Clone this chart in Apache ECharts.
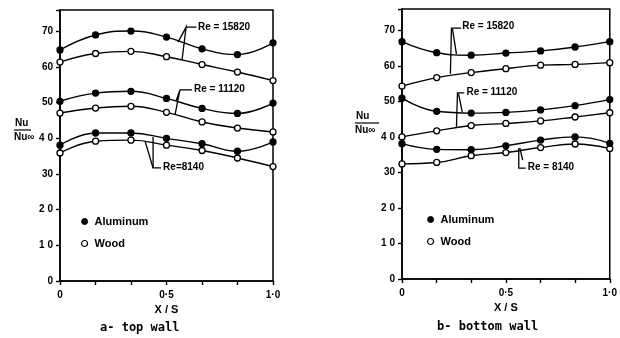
<!DOCTYPE html>
<html><head><meta charset="utf-8">
<script src="https://cdn.jsdelivr.net/npm/echarts@6/dist/echarts.min.js"></script>
<style>html,body{margin:0;padding:0;background:#fff}#c{width:620px;height:338px}</style>
</head><body><div id="c"></div>
<script>
// X/S positions
var xPos = [0, 0.167, 0.333, 0.5, 0.667, 0.833, 1.0];
// (a) top wall
var topAl15820   = [64.8, 69.0, 70.1, 68.4, 65.1, 63.5, 66.8];
var topWood15820 = [61.4, 63.8, 64.4, 62.9, 60.7, 58.6, 56.2];
var topAl11120   = [50.4, 52.7, 53.2, 51.2, 48.4, 47.0, 49.9];
var topWood11120 = [47.1, 48.5, 49.0, 47.3, 44.6, 42.9, 41.8];
var topAl8140    = [38.1, 41.5, 41.5, 40.0, 38.5, 36.4, 39.0];
var topWood8140  = [35.9, 39.2, 39.5, 38.1, 36.6, 34.5, 32.1];
// (b) bottom wall
var botAl15820   = [66.8, 63.7, 63.0, 63.6, 64.2, 65.3, 66.8];
var botWood15820 = [54.3, 56.7, 58.1, 59.2, 60.2, 60.4, 60.9];
var botAl11120   = [50.9, 47.2, 46.7, 46.9, 47.6, 48.8, 50.5];
var botWood11120 = [40.0, 41.7, 43.2, 43.8, 44.5, 45.6, 46.8];
var botAl8140    = [38.1, 36.5, 36.4, 37.5, 39.1, 40.0, 38.2];
var botWood8140  = [32.4, 32.8, 34.7, 35.6, 37.0, 38.0, 36.7];
var yTicks = [0, 10, 20, 30, 40, 50, 60, 70];
var xTickLabels = {'0': '0', '0.5': '0·5', '1': '1·0'};
var captions = ['a- top wall', 'b- bottom wall'];

// annotation leader lines in data coordinates [gridIndex, label, textPoint, polylines]
var annots = [
  [0, 'Re = 15820', [0.648, 70.9], [[[0.554, 67.0], [0.592, 71.2], [0.573, 62.0]], [[0.592, 71.2], [0.640, 71.2]]]],
  [0, 'Re = 11120', [0.629, 53.6], [[[0.545, 50.5], [0.563, 53.6], [0.540, 46.6]], [[0.563, 53.6], [0.620, 53.6]]]],
  [0, 'Re=8140',    [0.484, 31.7], [[[0.437, 40.4], [0.437, 31.7], [0.474, 31.7]], [[0.399, 39.3], [0.437, 31.7]]]],
  [1, 'Re = 15820', [0.290, 70.9], [[[0.233, 57.8], [0.238, 70.6], [0.285, 70.6]], [[0.243, 70.4], [0.262, 63.3]]]],
  [1, 'Re = 11120', [0.310, 52.4], [[[0.262, 42.8], [0.267, 52.4], [0.300, 52.4]], [[0.272, 52.2], [0.290, 47.0]]]],
  [1, 'Re = 8140',  [0.605, 31.2], [[[0.562, 36.9], [0.562, 31.2], [0.595, 31.2]], [[0.567, 36.9], [0.581, 33.5]]]]
];

var chart = echarts.init(document.getElementById('c'), null, {renderer: 'canvas'});
var FONT = 'Liberation Sans';

function mkX(gi) {
  return {
    type: 'value', gridIndex: gi, min: 0, max: 1, interval: 1 / 6,
    axisLine: {show: true, lineStyle: {color: '#000', width: 1.6}},
    axisTick: {show: true, length: 4, lineStyle: {color: '#000', width: 1.4}},
    splitLine: {show: false},
    axisLabel: {
      color: '#000', fontFamily: FONT, fontWeight: 'bold', fontSize: 10, margin: 9,
      formatter: function (v) {
        var k = String(Math.round(v * 1000) / 1000);
        return xTickLabels[k] !== undefined ? xTickLabels[k] : '';
      }
    },
    name: 'X / S', nameLocation: 'middle', nameGap: 21,
    nameTextStyle: {color: '#000', fontFamily: FONT, fontWeight: 'bold', fontSize: 11}
  };
}
function mkY(gi) {
  return {
    type: 'value', gridIndex: gi, min: 0, max: 76, interval: 10,
    axisLine: {show: true, lineStyle: {color: '#000', width: 1.6}},
    axisTick: {show: true, length: 4, lineStyle: {color: '#000', width: 1.4}},
    splitLine: {show: false},
    axisLabel: {
      color: '#000', fontFamily: FONT, fontWeight: 'bold', fontSize: 10, margin: 7,
      formatter: function (v) {
        return yTicks.indexOf(v) >= 0 ? (v === 40 || v === 20 || v === 10 ? String(v).split('').join(' ') : String(v)) : '';
      }
    }
  };
}
function mkSeries(name, data, gi, filled) {
  return {
    type: 'line', name: name, xAxisIndex: gi, yAxisIndex: gi,
    data: xPos.map(function (x, i) { return [x, data[i]]; }),
    smooth: 0.45,
    symbol: 'circle', symbolSize: 6,
    lineStyle: {color: '#000', width: 1.4},
    itemStyle: {color: filled ? '#000' : '#fff', borderColor: '#000', borderWidth: 1.3},
    emphasis: {disabled: true}, z: filled ? 3 : 2
  };
}
var series = [
  mkSeries('Aluminum', topAl15820, 0, true), mkSeries('Wood', topWood15820, 0, false),
  mkSeries('Aluminum', topAl11120, 0, true), mkSeries('Wood', topWood11120, 0, false),
  mkSeries('Aluminum', topAl8140, 0, true), mkSeries('Wood', topWood8140, 0, false),
  mkSeries('Aluminum', botAl15820, 1, true), mkSeries('Wood', botWood15820, 1, false),
  mkSeries('Aluminum', botAl11120, 1, true), mkSeries('Wood', botWood11120, 1, false),
  mkSeries('Aluminum', botAl8140, 1, true), mkSeries('Wood', botWood8140, 1, false)
];
function mkLegend(left, top) {
  return {
    left: left, top: top, orient: 'vertical', itemWidth: 6, itemHeight: 6, itemGap: 11,
    selectedMode: false,
    textStyle: {color: '#000', fontFamily: FONT, fontWeight: 'bold', fontSize: 11, padding: [0, 0, 0, 2]},
    data: [
      {name: 'Aluminum', icon: 'circle', itemStyle: {color: '#000', borderColor: '#000', borderWidth: 1}},
      {name: 'Wood', icon: 'circle', itemStyle: {color: '#fff', borderColor: '#000', borderWidth: 1.2}}
    ]
  };
}

chart.setOption({
  animation: false,
  grid: [
    {left: 60, top: 10, width: 213, height: 271, show: true, borderColor: '#000', borderWidth: 1.5, backgroundColor: 'transparent'},
    {left: 402, top: 9, width: 210, height: 270, show: true, borderColor: '#000', borderWidth: 1.5, backgroundColor: 'transparent'}
  ],
  xAxis: [mkX(0), mkX(1)],
  yAxis: [mkY(0), mkY(1)],
  legend: [mkLegend(76, 211), mkLegend(422, 209)],
  series: series
});

var g = [];
annots.forEach(function (a) {
  var gi = a[0];
  var conv = function (p) { return chart.convertToPixel({gridIndex: gi}, p); };
  var tp = conv(a[2]);
  g.push({type: 'text', left: tp[0], top: tp[1] - 6, z: 10,
    style: {text: a[1], fill: '#000', font: 'bold 10px "' + FONT + '"'}});
  a[3].forEach(function (pl) {
    g.push({type: 'polyline', z: 10, shape: {points: pl.map(conv)},
      style: {stroke: '#000', lineWidth: 1.3, fill: null}});
  });
});
// y-axis name Nu / Nu∞ as a fraction
function yName(x, y, w) {
  g.push({type: 'text', left: x + 1, top: y, style: {text: 'Nu', fill: '#000', font: 'bold 10px "' + FONT + '"'}});
  g.push({type: 'line', shape: {x1: x, y1: y + 12, x2: x + w, y2: y + 12}, style: {stroke: '#000', lineWidth: 1.2}});
  g.push({type: 'text', left: x, top: y + 14, style: {text: 'Nu∞', fill: '#000', font: 'bold 10px "' + FONT + '"'}});
}
yName(14, 118, 17);
yName(355, 111, 24);
// captions
g.push({type: 'text', left: 100, top: 322, style: {text: captions[0], fill: '#000', font: 'bold 12px "DejaVu Sans Mono"'}});
g.push({type: 'text', left: 437, top: 321, style: {text: captions[1], fill: '#000', font: 'bold 12px "DejaVu Sans Mono"'}});
chart.setOption({graphic: g});
</script></body></html>
